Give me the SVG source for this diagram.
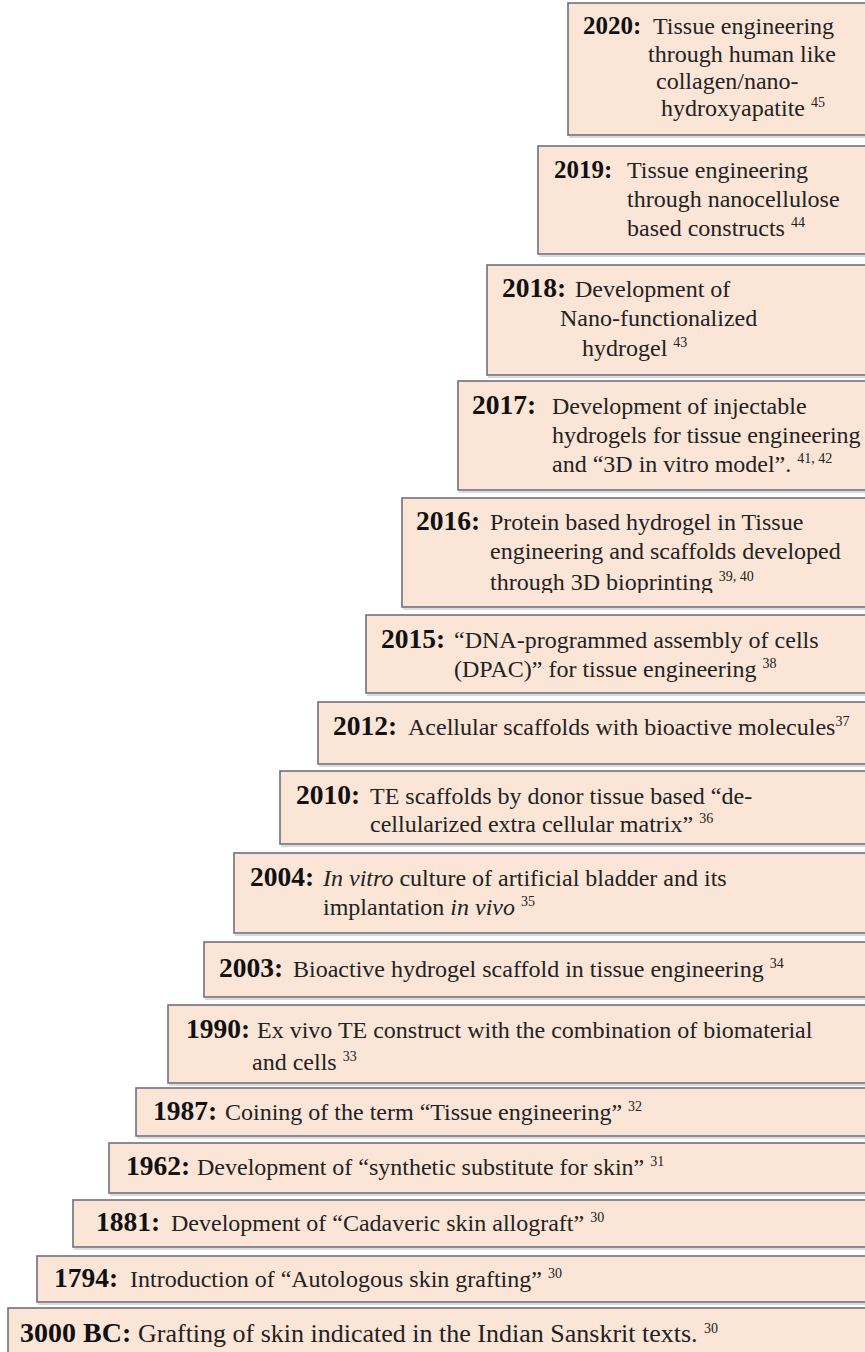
<svg xmlns="http://www.w3.org/2000/svg" width="865" height="1352" viewBox="0 0 865 1352">
  <defs>
    <style>
      .box { fill: #fbe5d7; stroke: #707080; stroke-width: 1.6; }
      .shadow { fill: none; stroke: #b8b8c0; stroke-width: 1.2; }
      .yr { font-family: "Liberation Serif", "Times New Roman", serif; font-weight: bold; font-size: 27.5px; fill: #111; }
      .yr.s { font-size: 25px; }
      .t { font-family: "Liberation Serif", "Times New Roman", serif; font-size: 24px; fill: #222; }
      .big .yr { font-size: 28px; }
      .big .t { font-size: 26px; }
      .i { font-style: italic; }
      .sup { font-size: 14px; }
    </style>
    <clipPath id="clip2016"><rect x="0" y="498" width="865" height="95"/></clipPath>
  </defs>
  <rect width="865" height="1352" fill="#ffffff"/>

  <!-- timeline steps, newest at the top -->
  <g id="step-2020">
    <rect class="box" x="568" y="3" width="310" height="132"/>
    <line class="shadow" x1="569" y1="137" x2="865" y2="137"/>
    <text class="yr s" x="583" y="34">2020:</text>
    <text class="t" x="653" y="34">Tissue engineering</text>
    <text class="t" x="648" y="62">through human like</text>
    <text class="t" x="656" y="89">collagen/nano-</text>
    <text class="t" x="661" y="116">hydroxyapatite <tspan class="sup" dy="-9">45</tspan></text>
  </g>

  <g id="step-2019">
    <rect class="box" x="538" y="146" width="340" height="108"/>
    <line class="shadow" x1="539" y1="256" x2="865" y2="256"/>
    <text class="yr s" x="554" y="178">2019:</text>
    <text class="t" x="627" y="178">Tissue engineering</text>
    <text class="t" x="627" y="207">through nanocellulose</text>
    <text class="t" x="627" y="236">based constructs <tspan class="sup" dy="-9">44</tspan></text>
  </g>

  <g id="step-2018">
    <rect class="box" x="487" y="265" width="391" height="110"/>
    <line class="shadow" x1="488" y1="377" x2="865" y2="377"/>
    <text class="yr" x="502" y="297">2018:</text>
    <text class="t" x="575" y="297">Development of</text>
    <text class="t" x="560" y="326">Nano-functionalized</text>
    <text class="t" x="582" y="356">hydrogel <tspan class="sup" dy="-9">43</tspan></text>
  </g>

  <g id="step-2017">
    <rect class="box" x="458" y="381" width="420" height="109"/>
    <line class="shadow" x1="459" y1="492" x2="865" y2="492"/>
    <text class="yr" x="472" y="414">2017:</text>
    <text class="t" x="552" y="414">Development of injectable</text>
    <text class="t" x="552" y="443">hydrogels for tissue engineering</text>
    <text class="t" x="552" y="472">and “3D in vitro model”. <tspan class="sup" dy="-9">41, 42</tspan></text>
  </g>

  <g id="step-2016">
    <rect class="box" x="402" y="498" width="476" height="109"/>
    <line class="shadow" x1="403" y1="609" x2="865" y2="609"/>
    <text class="yr" x="416" y="530">2016:</text>
    <text class="t" x="490" y="530">Protein based hydrogel in Tissue</text>
    <text class="t" x="490" y="559">engineering and scaffolds developed</text>
    <text class="t" x="490" y="590" clip-path="url(#clip2016)">through 3D bioprinting <tspan class="sup" dy="-9">39, 40</tspan></text>
  </g>

  <g id="step-2015">
    <rect class="box" x="366" y="615" width="512" height="78"/>
    <line class="shadow" x1="367" y1="695" x2="865" y2="695"/>
    <text class="yr" x="381" y="648">2015:</text>
    <text class="t" x="454" y="648">“DNA-programmed assembly of cells</text>
    <text class="t" x="454" y="677">(DPAC)” for tissue engineering <tspan class="sup" dy="-9">38</tspan></text>
  </g>

  <g id="step-2012">
    <rect class="box" x="318" y="702" width="560" height="62"/>
    <line class="shadow" x1="319" y1="766" x2="865" y2="766"/>
    <text class="yr" x="333" y="735">2012:</text>
    <text class="t" x="408" y="735">Acellular scaffolds with bioactive molecules<tspan class="sup" dy="-9">37</tspan></text>
  </g>

  <g id="step-2010">
    <rect class="box" x="280" y="771" width="598" height="73"/>
    <line class="shadow" x1="281" y1="846" x2="865" y2="846"/>
    <text class="yr" x="296" y="804">2010:</text>
    <text class="t" x="370" y="804">TE scaffolds by donor tissue based “de-</text>
    <text class="t" x="370" y="832">cellularized extra cellular matrix” <tspan class="sup" dy="-9">36</tspan></text>
  </g>

  <g id="step-2004">
    <rect class="box" x="234" y="853" width="644" height="80"/>
    <line class="shadow" x1="235" y1="935" x2="865" y2="935"/>
    <text class="yr" x="250" y="886">2004:</text>
    <text class="t" x="323" y="886"><tspan class="i">In vitro</tspan> culture of artificial bladder and its</text>
    <text class="t" x="323" y="915">implantation <tspan class="i">in vivo</tspan> <tspan class="sup" dy="-9">35</tspan></text>
  </g>

  <g id="step-2003">
    <rect class="box" x="204" y="942" width="674" height="55"/>
    <line class="shadow" x1="205" y1="999" x2="865" y2="999"/>
    <text class="yr" x="219" y="977">2003:</text>
    <text class="t" x="293" y="977">Bioactive hydrogel scaffold in tissue engineering <tspan class="sup" dy="-9">34</tspan></text>
  </g>

  <g id="step-1990">
    <rect class="box" x="168" y="1005" width="710" height="78"/>
    <line class="shadow" x1="169" y1="1085" x2="865" y2="1085"/>
    <text class="yr" x="186" y="1038">1990:</text>
    <text class="t" x="257" y="1038">Ex vivo TE construct with the combination of biomaterial</text>
    <text class="t" x="252" y="1070">and cells  <tspan class="sup" dy="-9">33</tspan></text>
  </g>

  <g id="step-1987">
    <rect class="box" x="136" y="1088" width="742" height="48"/>
    <line class="shadow" x1="137" y1="1138" x2="865" y2="1138"/>
    <text class="yr" x="153" y="1120">1987:</text>
    <text class="t" x="225" y="1120">Coining of the term “Tissue engineering” <tspan class="sup" dy="-9">32</tspan></text>
  </g>

  <g id="step-1962">
    <rect class="box" x="109" y="1143" width="769" height="50"/>
    <line class="shadow" x1="110" y1="1195" x2="865" y2="1195"/>
    <text class="yr" x="126" y="1175">1962:</text>
    <text class="t" x="197" y="1175">Development of “synthetic substitute for skin” <tspan class="sup" dy="-9">31</tspan></text>
  </g>

  <g id="step-1881">
    <rect class="box" x="73" y="1200" width="805" height="47"/>
    <line class="shadow" x1="74" y1="1249" x2="865" y2="1249"/>
    <text class="yr" x="96" y="1231">1881:</text>
    <text class="t" x="171" y="1231">Development of “Cadaveric skin allograft” <tspan class="sup" dy="-9">30</tspan></text>
  </g>

  <g id="step-1794">
    <rect class="box" x="37" y="1256" width="841" height="46"/>
    <line class="shadow" x1="38" y1="1304" x2="865" y2="1304"/>
    <text class="yr" x="54" y="1287">1794:</text>
    <text class="t" x="130" y="1287">Introduction of “Autologous skin grafting” <tspan class="sup" dy="-9">30</tspan></text>
  </g>

  <g id="step-3000bc" class="big">
    <rect class="box" x="8" y="1308" width="870" height="60"/>
    <text class="yr" x="20" y="1342">3000 BC:</text>
    <text class="t" x="138" y="1342">Grafting of skin indicated in the Indian Sanskrit texts. <tspan class="sup" dy="-9">30</tspan></text>
  </g>
</svg>
